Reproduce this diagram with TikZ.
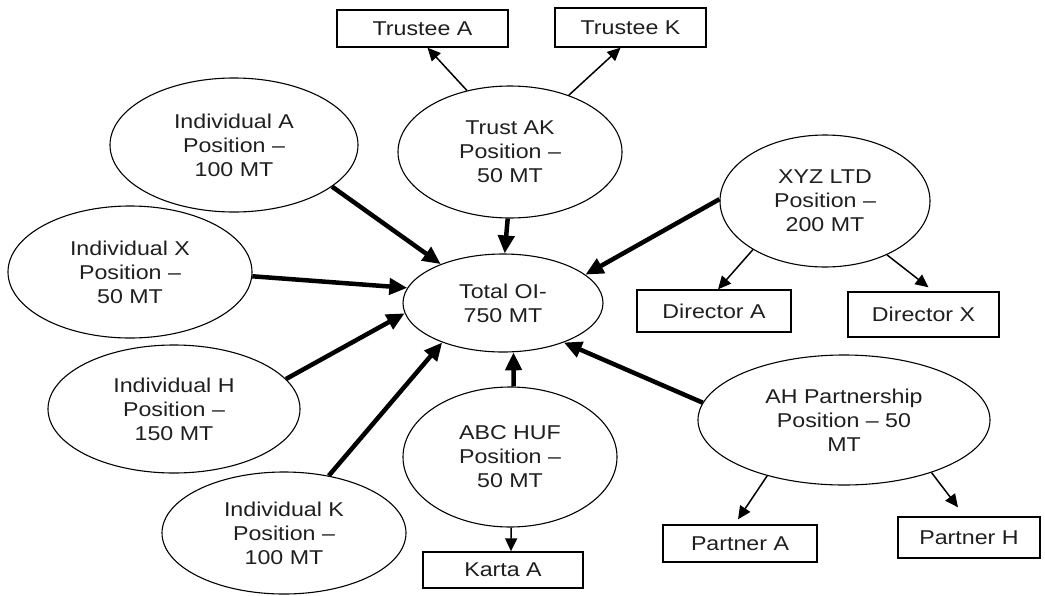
\documentclass[tikz,border=0pt]{standalone}
\usepackage{fontspec}
\setmainfont{Liberation Sans}[FakeStretch=1.16]
\usetikzlibrary{shapes.geometric,arrows.meta}
\begin{document}
\begin{tikzpicture}[x=1pt,y=-1pt,
  ell/.style={ellipse,draw,line width=1.1pt,inner sep=0pt,align=center,text=black!88,font=\fontsize{20}{24}\selectfont},
  box/.style={rectangle,draw,line width=1.4pt,inner sep=0pt,text=black!88,font=\fontsize{20}{24}\selectfont},
  bigarr/.style={line width=4.5pt,-{Triangle[length=18pt,width=16pt]}},
  smallarr/.style={line width=1.5pt,-{Triangle[length=13pt,width=12pt]}}]
\useasboundingbox (0,0) rectangle (1045,595);

% ellipses
\node[ell,minimum width=200pt,minimum height=98pt] (total) at (503,303) {Total OI-\\750 MT};
\node[ell,minimum width=248pt,minimum height=134pt] (indA) at (234,145) {Individual A\\Position –\\100 MT};
\node[ell,minimum width=244pt,minimum height=132pt] (indX) at (130,272) {Individual X\\Position –\\50 MT};
\node[ell,minimum width=252pt,minimum height=128pt] (indH) at (174,409) {Individual H\\Position –\\150 MT};
\node[ell,minimum width=244pt,minimum height=122pt] (indK) at (284,533) {Individual K\\Position –\\100 MT};
\node[ell,minimum width=224pt,minimum height=132pt] (trust) at (510,152) {Trust AK\\Position –\\50 MT};
\node[ell,minimum width=210pt,minimum height=132pt] (xyz) at (825,201) {XYZ LTD\\Position –\\200 MT};
\node[ell,minimum width=214pt,minimum height=140pt] (abc) at (510,457) {ABC HUF\\Position –\\50 MT};
\node[ell,minimum width=292pt,minimum height=130pt] (ah) at (844,420) {AH Partnership\\Position – 50\\MT};

% boxes
\node[box,minimum width=171pt,minimum height=37pt] (trA) at (422.5,28.5) {Trustee A};
\node[box,minimum width=151pt,minimum height=39pt] (trK) at (630.5,27.5) {Trustee K};
\node[box,minimum width=154pt,minimum height=42pt] (dirA) at (714,311) {Director A};
\node[box,minimum width=151pt,minimum height=45pt] (dirX) at (923.5,314.5) {Director X};
\node[box,minimum width=160pt,minimum height=36pt] (karta) at (503,570) {Karta A};
\node[box,minimum width=154pt,minimum height=37pt] (pA) at (740,543.5) {Partner A};
\node[box,minimum width=142pt,minimum height=41pt] (pH) at (969,537.5) {Partner H};

% thick arrows into Total OI
\draw[bigarr] (indA.-23.5) -- (total.148.4);
\draw[bigarr] (indX.-2.8) -- (total.171.5);
\draw[bigarr] (indH.15) -- (total.186.8);
\draw[bigarr] (indK.52.3) -- (total.213.7);
\draw[bigarr] (trust.-92.6) -- (total.88);
\draw[bigarr] (abc.87.6) -- (total.-78.5);
\draw[bigarr] (ah.173.8) -- (total.-33.3);
\draw[bigarr] (xyz.179.5) -- (total.19.3);

% thin arrows
\draw[smallarr] (trust.125.6) -- ([xshift=5pt]trA.south);
\draw[smallarr] (trust.44.5) -- ([xshift=-10pt]trK.south);
\draw[smallarr] (xyz.214) -- ([xshift=4pt]dirA.north);
\draw[smallarr] (xyz.-41.6) -- ([xshift=5pt,yshift=4pt]dirX.north);
\draw[smallarr] (abc.-89) -- ([xshift=8pt]karta.north);
\draw[smallarr] (ah.216.9) -- ([xshift=-2pt,yshift=5pt]pA.north);
\draw[smallarr] (ah.-31.6) -- ([xshift=-11pt,yshift=9pt]pH.north);
\end{tikzpicture}
\end{document}
